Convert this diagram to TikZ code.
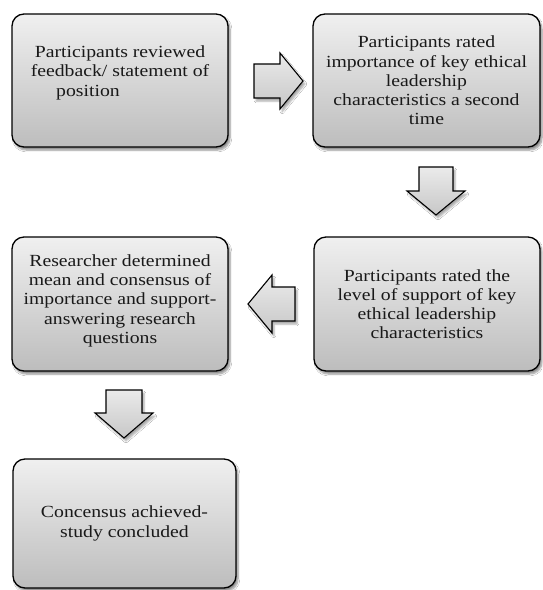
\documentclass[tikz,border=0pt]{standalone}
\usepackage{fontspec}
\setmainfont[FakeStretch=1.16]{Liberation Serif}
\usetikzlibrary{shadows.blur}
\begin{document}
\begin{tikzpicture}[x=1pt,y=-1pt,
  box/.style={draw=black, line width=1.3pt, rounded corners=12pt,
    top color=black!6, bottom color=black!26,
    blur shadow={shadow xshift=2pt, shadow yshift=-3pt, shadow blur steps=6, shadow opacity=45},
    align=center, font=\fontsize{17}{19.2}\selectfont, text=black!90, inner sep=0pt, anchor=center},
  barrow/.style={draw=black, line width=1.1pt, line join=miter,
    top color=black!8, bottom color=black!22,
    blur shadow={shadow xshift=2pt, shadow yshift=-3pt, shadow blur steps=5, shadow opacity=35}}]
\useasboundingbox[fill=white] (0,0) rectangle (542,590);

\node[box, minimum width=216pt, minimum height=133pt] (b1) at (120,80.5)
  {Participants reviewed\\feedback/ statement of\\position\hspace*{64pt}\mbox{}\\\mbox{}};
\node[box, minimum width=227pt, minimum height=133pt] (b2) at (426.5,80.5)
  {Participants rated\\importance of key ethical\\leadership\\characteristics a second\\time};
\node[box, minimum width=226pt, minimum height=134pt] (b4) at (427,304)
  {Participants rated the\\level of support of key\\ethical leadership\\characteristics};
\node[box, minimum width=216pt, minimum height=134pt] (b3) at (120,304)
  {Researcher determined\\mean and consensus of\\importance and support-\\answering research\\questions\\[-9pt]\mbox{}};
\node[box, minimum width=223pt, minimum height=129pt] (b5) at (124.5,523.5)
  {Concensus achieved-\\study concluded};

% block arrows
\coordinate (a1) at (254,81);
\draw[barrow] (a1) ++(0,-17) -- ++(26,0) -- ++(0,-11) -- ++(23,28) -- ++(-23,28) -- ++(0,-11) -- ++(-26,0) -- cycle;
\coordinate (a2) at (436,167);
\draw[barrow] (a2) ++(-17,0) -- ++(34,0) -- ++(0,24) -- ++(12,0) -- ++(-29,24) -- ++(-29,-24) -- ++(12,0) -- cycle;
\coordinate (a3) at (295,304);
\draw[barrow] (a3) ++(0,-17) -- ++(-23,0) -- ++(0,-12) -- ++(-24,29) -- ++(24,29) -- ++(0,-12) -- ++(23,0) -- cycle;
\coordinate (a4) at (124,390);
\draw[barrow] (a4) ++(-18,0) -- ++(36,0) -- ++(0,23) -- ++(11,0) -- ++(-29,25) -- ++(-29,-25) -- ++(11,0) -- cycle;
\end{tikzpicture}
\end{document}
